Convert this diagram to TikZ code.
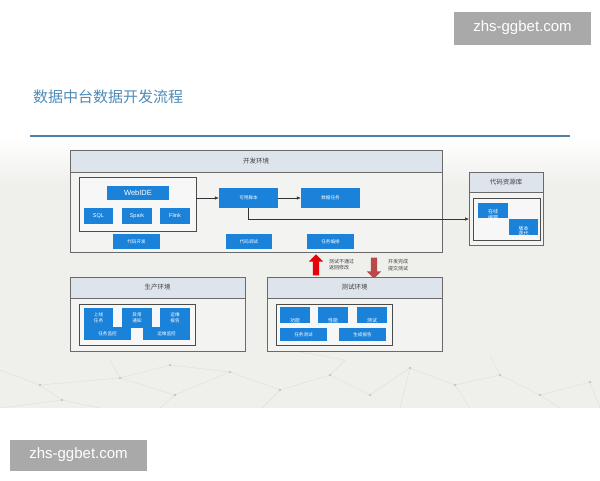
\documentclass[tikz,border=0pt]{standalone}
\usepackage{fontspec}
\setmainfont{Liberation Sans}
\newfontfamily\cjk{Noto Sans CJK SC}
\usetikzlibrary{arrows.meta,shapes.arrows}
\definecolor{bluebox}{HTML}{1B82D9}
\definecolor{headfill}{HTML}{DEE4EC}
\definecolor{bodyfill}{HTML}{F3F3F1}
\definecolor{framecol}{HTML}{6A6A6A}
\definecolor{titlecol}{HTML}{4F8BB8}
\definecolor{rulecol}{HTML}{4E7FA6}
\definecolor{netcol}{HTML}{DEDEDA}
\definecolor{slidebg}{HTML}{EFEFEC}
\definecolor{wmgray}{HTML}{A9A9A9}
\definecolor{redup}{HTML}{E8000B}
\definecolor{reddown}{HTML}{BA4A4A}
\tikzset{
  bbox/.style={fill=bluebox, text=white, inner sep=0pt, align=center, font=\cjk\fontsize{4.6}{5.6}\selectfont},
  headbox/.style={draw=framecol, fill=headfill, line width=0.7pt, inner sep=0pt, font=\cjk\fontsize{6.5}{7.5}\selectfont, text=black!75},
  bodybox/.style={draw=framecol, fill=bodyfill, line width=0.7pt, inner sep=0pt},
  groupbox/.style={draw=black!70, fill=white!97!black, line width=0.7pt, inner sep=0pt},
  conn/.style={draw=black!80, line width=0.6pt, -{Latex[length=4pt,width=3.6pt]}},
  note/.style={font=\cjk\fontsize{5}{6.2}\selectfont, text=black!75, align=left, inner sep=0pt},
  wm/.style={fill=wmgray, text=white, font=\fontsize{15}{17}\selectfont, inner sep=0pt},
  net/.style={draw=netcol, line width=0.4pt}
}
% \mybox[style]{name}{x1}{y1}{x2}{y2}{text}
\newcommand{\mybox}[7][bbox]{%
  \node[#1, minimum width={(#5-#3)*1pt}, minimum height={(#6-#4)*1pt}] (#2) at ({(#3+#5)/2},{(#4+#6)/2}) {#7};}
\begin{document}
\begin{tikzpicture}[x=1pt,y=-1pt]
\useasboundingbox (0,0) rectangle (600,480);
\fill[white] (0,0) rectangle (600,480);
% slide background
\shade[top color=white, bottom color=slidebg] (0,138) rectangle (600,185);
\fill[slidebg] (0,184.5) rectangle (600,408);
% faint network pattern
\foreach \a/\b/\c/\d in {0/370/40/385, 40/385/62/400, 62/400/0/408, 40/385/120/378, 120/378/175/395, 175/395/160/408, 120/378/170/365, 170/365/230/372, 230/372/175/395, 230/372/280/390, 280/390/330/375, 330/375/370/395, 370/395/410/368, 410/368/455/385, 455/385/500/375, 500/375/540/395, 540/395/590/382, 500/375/490/355, 280/390/262/408, 410/368/400/408, 455/385/470/408, 590/382/600/408, 330/375/345/360, 540/395/560/408, 62/400/100/408, 345/360/300/352, 120/378/110/360}
  \draw[net] (\a,\b) -- (\c,\d);
\foreach \p in {(40,385),(120,378),(175,395),(230,372),(280,390),(330,375),(370,395),(410,368),(455,385),(500,375),(540,395),(590,382),(170,365),(62,400)}
  \fill[netcol!90!black] \p circle (1.3pt);
% title and rule
\node[anchor=west, font=\cjk\fontsize{15}{18}\selectfont, text=titlecol, inner sep=0pt] (title) at (33,97) {数据中台数据开发流程};
\draw[rulecol, line width=1.6pt] (30,136) -- (570,136);
% watermarks
\node[wm, minimum width=137pt, minimum height=33pt] (wm1) at (522.5,28) {zhs-ggbet.com};
\node[wm, minimum width=137pt, minimum height=31pt] (wm2) at (78.5,455) {zhs-ggbet.com};

% ===== dev environment
\mybox[bodybox]{devb}{70}{172}{442}{252}{}
\mybox[headbox]{devh}{70}{150}{442}{172}{开发环境}
\mybox[groupbox]{ide}{79}{177}{196}{231}{}
\node[bbox, font=\fontsize{7.5}{9}\selectfont, minimum width=62pt, minimum height=14pt] (webide) at (138,193) {WebIDE};
\node[bbox, font=\fontsize{5.5}{6.5}\selectfont, minimum width=29pt, minimum height=16pt] (sql) at (98.5,216) {SQL};
\node[bbox, font=\fontsize{5.5}{6.5}\selectfont, minimum width=30pt, minimum height=16pt] (spark) at (137,216) {Spark};
\node[bbox, font=\fontsize{5.5}{6.5}\selectfont, minimum width=30pt, minimum height=16pt] (flink) at (175,216) {Flink};
\mybox{kyjb}{219}{188}{278}{208}{可用脚本}
\mybox{sjrw}{301}{188}{360}{208}{数据任务}
\mybox{dmkf}{113}{234}{160}{249}{代码开发}
\mybox{dmts}{226}{234}{272}{249}{代码调试}
\mybox{rwbp}{307}{234}{354}{249}{任务编排}
\draw[conn] (ide.east |- kyjb.west) -- (kyjb.west);
\draw[conn] (kyjb) -- (sjrw);

% ===== code repository
\mybox[bodybox]{repob}{469}{192}{543}{245}{}
\mybox[headbox]{repoh}{469}{172}{543}{192}{代码资源库}
\mybox[groupbox]{repog}{473}{198}{540}{240}{}
\node[bbox, minimum width=30pt, minimum height=15pt] (zxbj) at (493,210.5) {};
\node[bbox, minimum width=29pt, minimum height=16pt] (bbdd) at (523.5,227) {};
\node[note, text=white, align=center] (zxbjt) at (493,214.5) {在线\\[-0.5pt]编辑};
\node[note, text=white, align=center] (bbddt) at (523.5,231) {版本\\[-0.5pt]迭代};
\coordinate (repoin) at (469,219);
\draw[conn] (kyjb.south) |- (repoin);

% ===== transfer arrows
\node[single arrow, fill=redup, draw=none, inner sep=3pt, minimum height=21pt, single arrow head extend=4pt, shape border rotate=90] (up) at (316,266.5) {};
\node[single arrow, fill=reddown, draw=none, inner sep=3pt, minimum height=21pt, single arrow head extend=4pt, shape border rotate=270] (down) at (374,266.5) {};
\node[note, anchor=west] (upt) at (329,265) {测试不通过\\返回修改};
\node[note, anchor=west] (downt) at (388,265) {开发完成\\提交测试};

% ===== production
\mybox[bodybox]{prodb}{70}{298}{245}{351}{}
\mybox[headbox]{prodh}{70}{277}{245}{298}{生产环境}
\mybox[groupbox]{prodg}{79}{304}{195}{345}{}
\mybox{sxrw}{84}{308}{113}{328}{上线\\任务}
\mybox{yctz}{122}{308}{152}{328}{异常\\通知}
\mybox{ywbg}{160}{308}{190}{328}{运维\\报告}
\mybox{rwjk}{84}{327}{131}{340}{任务监控}
\mybox{ywjk}{143}{327}{190}{340}{运维监控}

% ===== test
\mybox[bodybox]{testb}{267}{298}{442}{351}{}
\mybox[headbox]{testh}{267}{277}{442}{298}{测试环境}
\mybox[groupbox]{testg}{276}{304}{392}{345}{}
\mybox{gnts}{280}{307}{310}{323}{}
\mybox{xnts}{318}{307}{348}{323}{}
\mybox{csbg}{357}{307}{387}{323}{}
\node[note, text=white, anchor=south] (gnt) at (gnts.south) {功能};
\node[note, text=white, anchor=south] (xnt) at (xnts.south) {性能};
\node[note, text=white, anchor=south] (cst) at (csbg.south) {测试};
\mybox{rwcs}{280}{328}{327}{341}{任务测试}
\mybox{scbg}{339}{328}{386}{341}{生成报告}
\end{tikzpicture}
\end{document}
